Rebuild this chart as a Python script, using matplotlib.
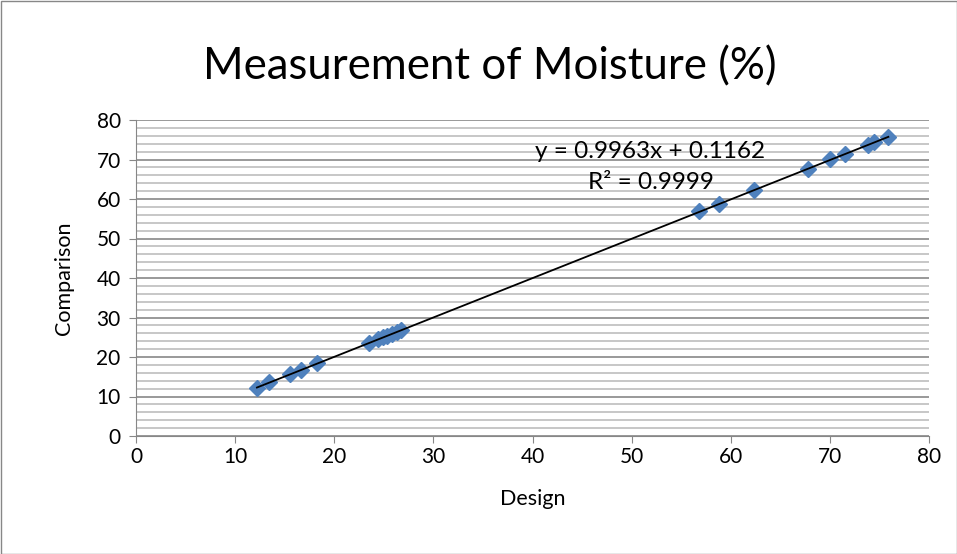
import numpy as np
from matplotlib import pyplot as plt
from matplotlib.ticker import MultipleLocator

plt.rcParams['font.family'] = ['Lato', 'DejaVu Sans']

# readings taken off the chart
design = [12.2, 13.4, 15.5, 16.6, 18.3, 23.5, 24.4, 24.9, 25.3, 25.8, 26.3, 26.7,
          56.8, 58.8, 62.3, 67.8, 70.0, 71.5, 73.8, 74.5, 75.9]
comparison = [12.2, 13.6, 15.8, 16.8, 18.4, 23.6, 24.5, 25.0, 25.3, 25.8, 26.3, 26.8,
              56.9, 58.8, 62.2, 67.6, 70.1, 71.3, 73.6, 74.4, 75.6]
slope, intercept = 0.9963, 0.1162
eq_text = "y = 0.9963x + 0.1162"
r2_text = "R² = 0.9999"

fig = plt.figure(figsize=(9.57, 5.54), dpi=100)
ax = fig.add_axes([136/957, 1-436/554, (929-136)/957, (436-120)/554])

ax.plot(design, comparison, 'D', color='#4F81BD', markersize=8.5, zorder=3)
xt = np.array([min(design), max(design)])
ax.plot(xt, slope*xt + intercept, color='black', lw=1.3, zorder=4)

ax.set_xlim(0, 80)
ax.set_ylim(0, 80)
ax.xaxis.set_major_locator(MultipleLocator(10))
ax.yaxis.set_major_locator(MultipleLocator(10))
ax.yaxis.set_minor_locator(MultipleLocator(2))
ax.grid(axis='y', which='major', color='#878787', lw=1.2)
ax.grid(axis='y', which='minor', color='#BEBEBE', lw=1.2)
ax.set_axisbelow(True)

for s in ['top', 'right']:
    ax.spines[s].set_visible(False)
for s in ['left', 'bottom']:
    ax.spines[s].set_color('#878787')
ax.tick_params(which='major', direction='out', length=5, color='#878787', labelsize=15)
ax.tick_params(axis='y', which='minor', length=0)
ax.tick_params(axis='y', pad=6)
ax.tick_params(axis='x', pad=3)

ax.set_xlabel("Design", fontsize=15.5, labelpad=16)
ax.set_ylabel("Comparison", fontsize=15.5, labelpad=16)

fig.text(490/957, 1-67/554, "Measurement of Moisture (%)", ha='center', va='center', fontsize=31.5)

# trendline labels
ax.text(51.9, 71.9, eq_text, ha='center', va='center', fontsize=17.5)
ax.text(51.9, 64.2, r2_text, ha='center', va='center', fontsize=17.5)

# outer chart border
fig.patches.append(plt.Rectangle((0.5/957, 0.5/554), 1-1/957, 1-1/554, transform=fig.transFigure,
                                 fill=False, edgecolor='#878787', lw=1))

fig.savefig("out.png", dpi=100)
